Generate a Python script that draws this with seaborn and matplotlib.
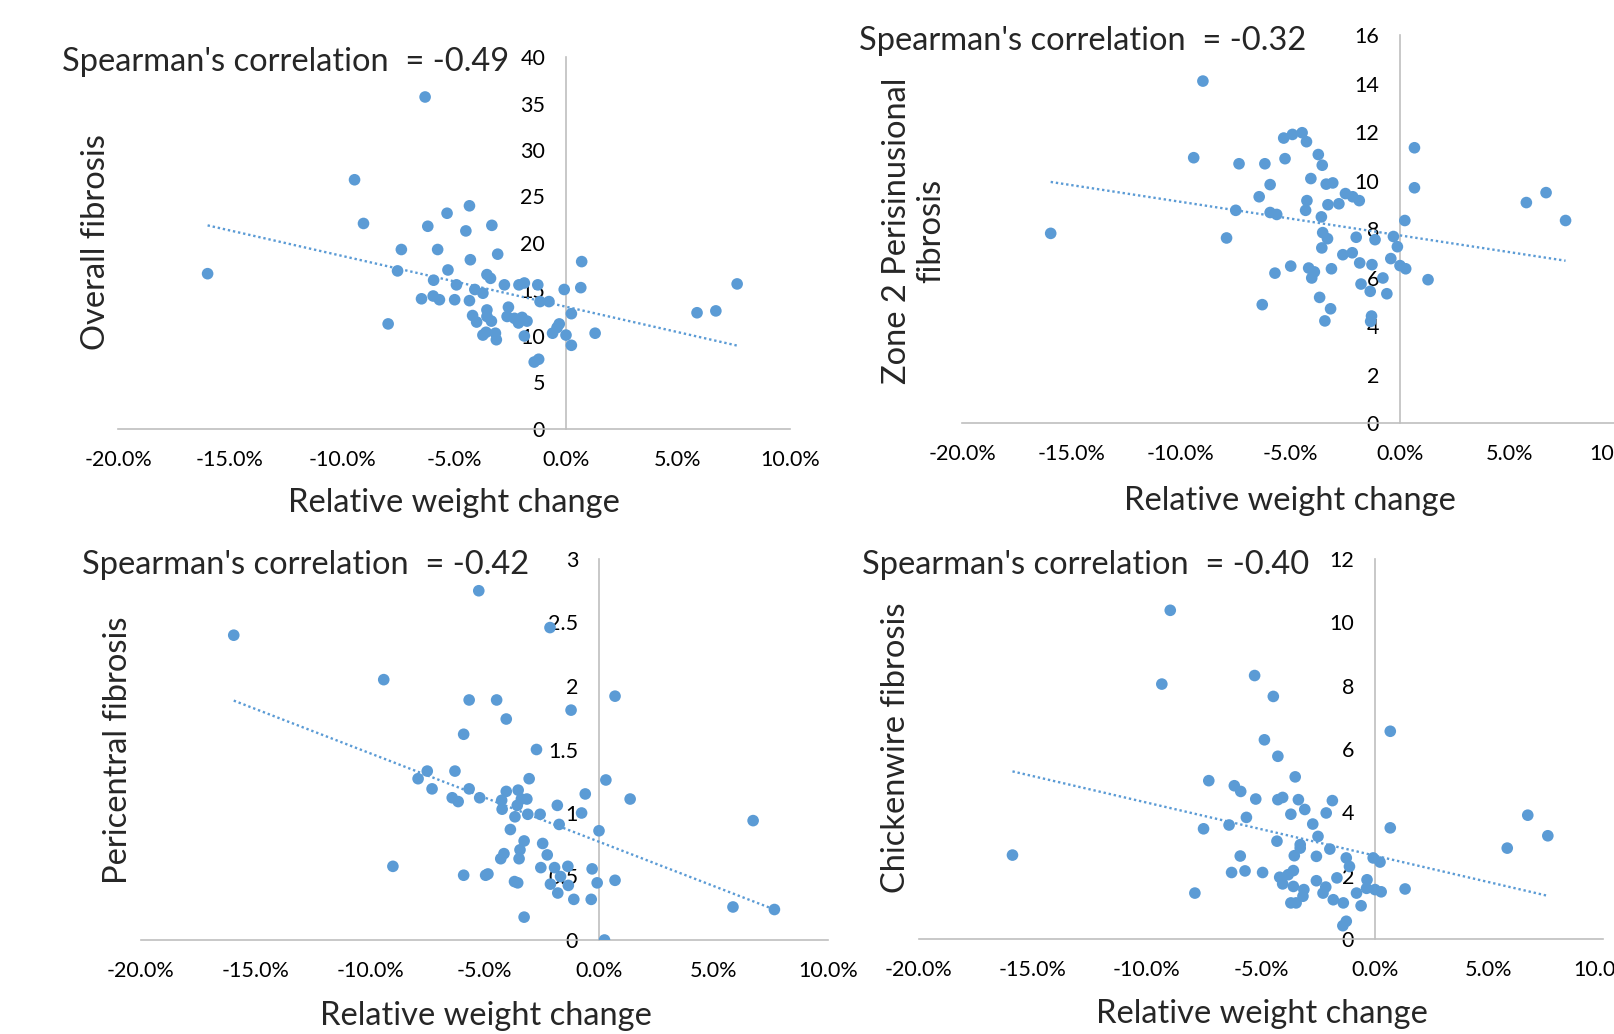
import numpy as np
import matplotlib
matplotlib.use("Agg")
import matplotlib.pyplot as plt
import seaborn as sns
from matplotlib.ticker import PercentFormatter, FuncFormatter

# relative weight change (%) and fibrosis scores
overall_x = [-16.0, -9.44, -9.04, -6.29, -7.94, -7.52, -7.35, -6.17, -5.31, -5.73,
             -5.91, -6.45, -5.93, -5.65, -5.27, -4.89, -4.97, -4.31, -4.47, -4.27,
             -4.07, -4.31, -3.71, -3.31, -3.05, -3.53, -3.37, -2.75, -3.53, -4.17,
             -3.99, -3.33, -3.53, -3.71, -3.57, -3.15, -3.11, -2.57, -2.63, -2.30,
             -2.12, -1.96, -1.74, -2.10, -1.86, -1.26, -1.16, -0.76, -1.86, -1.42,
             -1.22, -0.60, -0.30, -0.40, -0.08, 0.0, 0.24, 0.24, 0.66, 0.70,
             1.30, 5.85, 6.69, 7.64]
overall_y = [16.7, 26.8, 22.1, 35.7, 11.3, 17.0, 19.3, 21.8, 23.2, 19.3,
             16.0, 14.0, 14.3, 13.9, 17.1, 15.5, 13.9, 24.0, 21.3, 18.2,
             15.0, 13.8, 14.6, 21.9, 18.8, 16.6, 16.2, 15.5, 12.8, 12.2,
             11.5, 11.6, 12.1, 10.1, 10.4, 10.3, 9.6, 13.1, 12.1, 11.9,
             11.4, 12.0, 11.6, 15.5, 15.7, 15.5, 13.7, 13.7, 10.0, 7.2,
             7.5, 10.3, 11.3, 10.9, 15.0, 10.1, 9.0, 12.4, 15.2, 18.0,
             10.3, 12.5, 12.7, 15.6]

zone2_x = [-15.95, -9.0, -9.42, -7.92, -7.5, -7.35, -6.43, -6.29, -6.17, -5.93,
           -5.93, -5.63, -5.71, -5.31, -4.91, -4.47, -4.27, -5.25, -4.99, -4.31,
           -4.25, -4.07, -4.17, -4.03, -3.91, -3.73, -3.55, -3.59, -3.57, -3.53,
           -3.31, -3.67, -3.43, -3.17, -3.13, -3.37, -3.07, -3.29, -2.79, -2.49,
           -2.16, -1.86, -2.61, -2.18, -1.84, -2.0, -1.78, -1.36, -1.28, -1.14,
           -1.30, -1.34, -0.78, -0.60, -0.42, -0.30, -0.12, 0.0, 0.26, 0.22,
           0.66, 0.66, 1.28, 5.77, 6.67, 7.56]
zone2_y = [7.82, 14.1, 10.94, 7.63, 8.77, 10.69, 9.33, 4.88, 10.69, 9.83,
           8.68, 8.6, 6.18, 11.75, 11.9, 11.97, 11.6, 10.9, 6.47, 8.77,
           9.17, 10.08, 6.39, 5.98, 6.23, 11.07, 10.63, 8.5, 7.22, 7.85,
           7.6, 5.18, 4.21, 4.71, 6.36, 9.85, 9.9, 9.0, 9.04, 9.46,
           9.33, 9.17, 6.94, 7.02, 6.6, 7.66, 5.73, 5.43, 6.53, 7.56,
           4.41, 4.19, 5.98, 5.33, 6.78, 7.69, 7.27, 6.49, 6.36, 8.35,
           11.35, 9.7, 5.91, 9.09, 9.5, 8.35]

peri_x = [-15.95, -9.4, -9.0, -7.9, -7.5, -7.29, -6.41, -6.15, -6.29, -5.91,
          -5.91, -5.67, -5.67, -5.25, -5.21, -4.95, -4.85, -4.47, -4.05, -4.25,
          -4.23, -4.05, -3.87, -3.67, -3.57, -3.53, -3.39, -3.15, -3.05, -3.11,
          -3.27, -3.45, -4.15, -4.29, -3.49, -3.69, -3.55, -3.27, -2.73, -2.57,
          -2.46, -2.26, -2.54, -2.14, -1.82, -1.74, -1.94, -1.68, -2.12, -1.80,
          -1.36, -1.34, -1.22, -0.76, -0.60, -1.10, -0.34, -0.30, 0.0, -0.08,
          0.30, 0.24, 0.70, 0.70, 1.36, 5.85, 6.73, 7.66]
peri_y = [2.40, 2.05, 0.58, 1.27, 1.33, 1.19, 1.12, 1.09, 1.33, 1.62,
          0.51, 1.89, 1.19, 2.75, 1.12, 0.51, 0.52, 1.89, 1.74, 1.10,
          1.03, 1.17, 0.87, 0.97, 1.06, 1.18, 1.11, 1.11, 1.27, 0.99,
          0.78, 0.71, 0.68, 0.64, 0.64, 0.46, 0.45, 0.18, 1.50, 0.99,
          0.76, 0.67, 0.57, 2.46, 1.06, 0.91, 0.57, 0.50, 0.44, 0.37,
          0.58, 0.43, 1.81, 1.00, 1.15, 0.32, 0.32, 0.56, 0.86, 0.45,
          1.26, 0.0, 1.92, 0.47, 1.11, 0.26, 0.94, 0.24]

chicken_x = [-15.9, -8.98, -9.35, -7.9, -7.52, -7.29, -6.4, -6.29, -6.17, -5.89,
             -5.91, -5.7, -5.64, -5.28, -5.23, -4.93, -4.85, -4.46, -4.26, -4.26,
             -4.05, -4.30, -4.18, -4.05, -3.81, -3.58, -3.58, -3.69, -3.5, -3.36,
             -3.08, -3.28, -3.28, -3.54, -3.69, -3.46, -3.12, -3.16, -2.73, -2.50,
             -2.57, -2.57, -2.14, -1.87, -1.98, -2.16, -2.28, -1.83, -1.67, -1.26,
             -1.12, -1.39, -1.41, -1.26, -0.81, -0.61, -0.35, -0.37, -0.08, 0.0,
             0.22, 0.27, 0.67, 0.67, 1.32, 5.80, 6.70, 7.58]
chicken_y = [2.65, 10.38, 8.05, 1.45, 3.48, 5.0, 3.6, 2.1, 4.84, 4.66,
             2.62, 2.15, 3.84, 8.32, 4.42, 2.1, 6.29, 7.66, 5.77, 4.4,
             4.47, 3.09, 1.95, 1.74, 2.03, 2.16, 1.66, 3.94, 5.12, 4.4,
             4.09, 2.98, 2.87, 2.63, 1.14, 1.14, 1.56, 1.35, 3.63, 3.24,
             2.61, 1.84, 3.98, 4.37, 2.84, 1.64, 1.45, 1.24, 1.93, 2.56,
             2.29, 1.14, 0.42, 0.56, 1.45, 1.05, 1.87, 1.6, 2.56, 1.56,
             2.43, 1.49, 6.56, 3.51, 1.58, 2.87, 3.91, 3.26]

spearman = ["-0.49", "-0.32", "-0.42", "-0.40"]
y_titles = ["Overall fibrosis", "Zone 2 Perisinusional\nfibrosis",
            "Pericentral fibrosis", "Chickenwire fibrosis"]
x_ticks = [-0.20, -0.15, -0.10, -0.05, 0.0, 0.05, 0.10]
y_max = [40, 16, 3, 12]
y_step = [5, 2, 0.5, 2]

sns.set_theme(style="white")
plt.rcParams["font.family"] = ["Lato", "DejaVu Sans"]
plt.rcParams["axes.unicode_minus"] = False

W, H = 1614, 1034
fig = plt.figure(figsize=(W / 100, H / 100), dpi=100)
blue = "#5B9BD5"


def px_box(x0, x1, y_bottom, y_top):
    return [x0 / W, 1 - y_bottom / H, (x1 - x0) / W, (y_bottom - y_top) / H]


# axes boxes in pixels: left(-20%), right(10%), y of 0, y of max
boxes = [px_box(118, 790, 429, 57),
         px_box(962, 1619, 423, 35),
         px_box(141, 828, 940, 559),
         px_box(919, 1603, 939, 559)]
series = [(overall_x, overall_y), (zone2_x, zone2_y),
          (peri_x, peri_y), (chicken_x, chicken_y)]
title_pos = [(62, 62), (859, 41), (82, 565), (862, 565)]
ylab_pos = [(96, 242), (914, 231), (118, 750), (896, 748)]
xlab_pos = [(454, 503), (1290, 501), (486, 1016), (1262, 1014)]

for i in range(4):
    ax = fig.add_axes(boxes[i])
    xs = np.array(series[i][0]) / 100
    ys = np.array(series[i][1])
    sns.regplot(x=xs, y=ys, ax=ax, ci=None, truncate=True,
                scatter_kws=dict(s=70, color=blue, alpha=1, edgecolor="none", zorder=3),
                line_kws=dict(color=blue, lw=1.7, ls=(0, (1, 1.2)), zorder=2))
    ax.set_xlim(-0.2, 0.1)
    ax.set_ylim(0, y_max[i])
    ax.spines["left"].set_position(("data", 0))
    ax.spines[["top", "right"]].set_visible(False)
    for s in ["left", "bottom"]:
        ax.spines[s].set_color("#bfbfbf")
        ax.spines[s].set_linewidth(1.2)
        ax.spines[s].set_zorder(1)
    ax.set_xticks(x_ticks)
    ax.xaxis.set_major_formatter(PercentFormatter(1, decimals=1))
    ax.set_yticks(np.arange(0, y_max[i] + y_step[i] / 2, y_step[i]))
    ax.yaxis.set_major_formatter(FuncFormatter(lambda v, p: f"{v:g}"))
    ax.tick_params(length=0, labelsize=15.5, labelcolor="black")
    ax.tick_params(axis="x", pad=15)
    ax.tick_params(axis="y", pad=15)
    ax.set_xlabel("")
    ax.set_ylabel("")
    ax.set_facecolor("none")

    tx, ty = title_pos[i]
    fig.text(tx / W, 1 - ty / H, "Spearman's correlation  = " + spearman[i],
             fontsize=23.5, ha="left", va="center")
    lx, ly = ylab_pos[i]
    fig.text(lx / W, 1 - ly / H, y_titles[i], fontsize=23.5, rotation=90,
             ha="center", va="center", multialignment="center", linespacing=1.2)
    bx, by = xlab_pos[i]
    fig.text(bx / W, 1 - by / H, "Relative weight change", fontsize=23.5,
             ha="center", va="center")

fig.savefig("out.png", dpi=100)
